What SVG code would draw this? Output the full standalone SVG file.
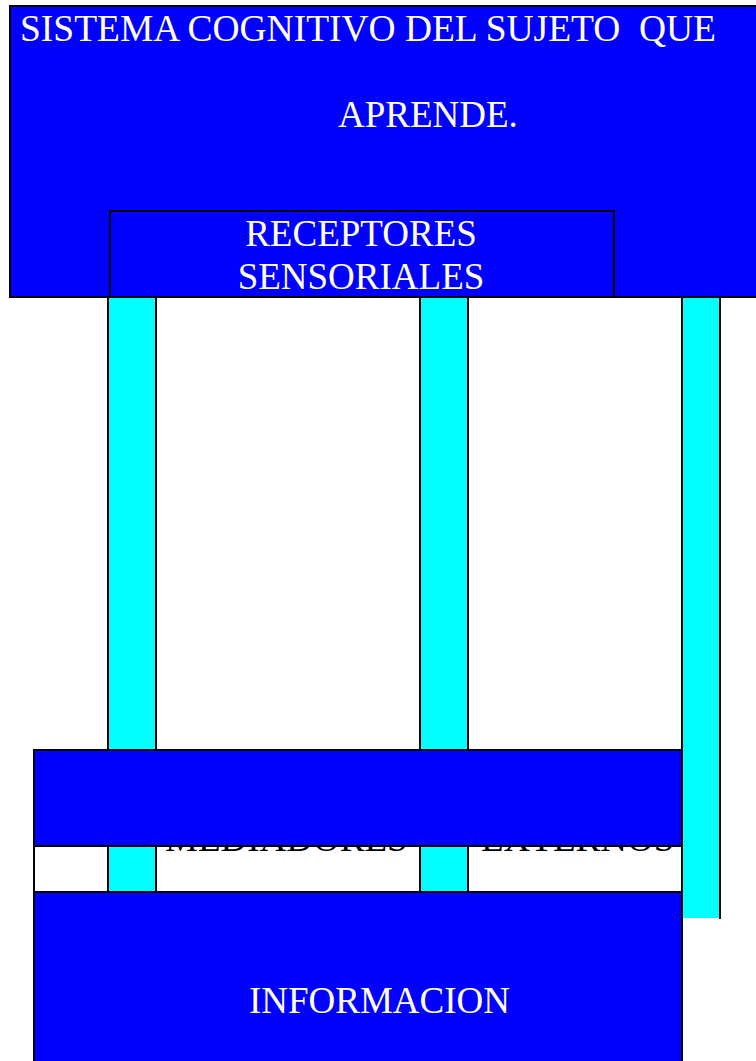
<svg xmlns="http://www.w3.org/2000/svg" width="756" height="1061" viewBox="0 0 756 1061">
<style>
.blue{fill:#0000ff;stroke:#000;stroke-width:2}
.col{fill:#00ffff}
.edge{stroke:#000;stroke-width:2;fill:none}
.t{font-family:"Liberation Serif","Times New Roman",serif;font-size:37px;fill:#fff}
.tk{font-family:"Liberation Serif","Times New Roman",serif;font-size:37px;fill:#000}
</style>
<rect width="756" height="1061" fill="#fff"/>
<g id="mediadores">
<rect x="34" y="750" width="648" height="142" fill="#fff" stroke="#000" stroke-width="2"/>
<text class="tk" y="851"><tspan x="165">MEDIADORES</tspan><tspan x="481">EXTERNOS</tspan></text>
</g>
<g id="connectors">
<rect class="col" x="108" y="296" width="48" height="597"/>
<path class="edge" d="M108 296V893M156 296V893"/>
<rect class="col" x="420" y="296" width="48" height="597"/>
<path class="edge" d="M420 296V893M468 296V893"/>
<rect class="col" x="682" y="296" width="38" height="622"/>
<path class="edge" d="M682 296V918M720 296V919"/>
</g>
<g id="mediadores-cover">
<rect class="blue" x="34" y="750" width="648" height="96"/>
</g>
<g id="informacion">
<rect class="blue" x="34" y="892" width="648" height="180"/>
<text class="t" x="249" y="1013" textLength="261" lengthAdjust="spacingAndGlyphs">INFORMACION</text>
</g>
<g id="sistema">
<rect class="blue" x="10" y="6" width="760" height="291"/>
<text class="t" x="20" y="41" xml:space="preserve" textLength="696" lengthAdjust="spacingAndGlyphs">SISTEMA COGNITIVO DEL SUJETO  QUE</text>
<text class="t" x="338" y="127">APRENDE.</text>
</g>
<g id="receptores">
<rect class="blue" x="110" y="211" width="504" height="86"/>
<text class="t" x="361" y="246" text-anchor="middle">RECEPTORES</text>
<text class="t" x="361" y="289" text-anchor="middle">SENSORIALES</text>
</g>
</svg>
